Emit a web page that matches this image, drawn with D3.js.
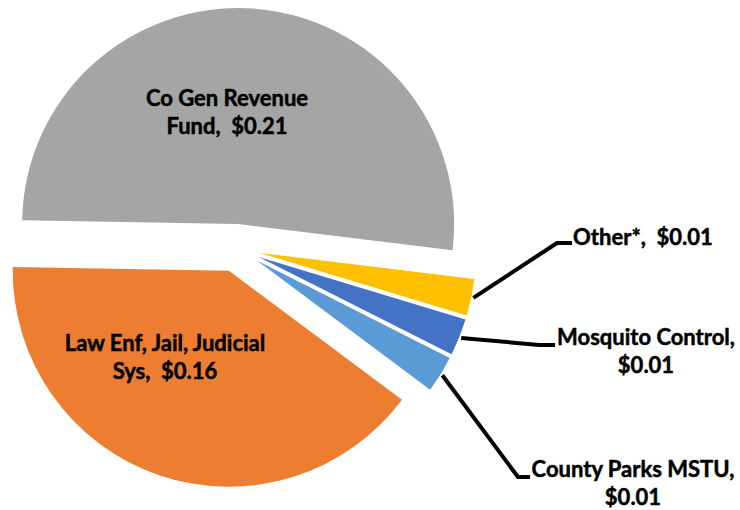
<!DOCTYPE html>
<html>
<head>
<meta charset="UTF-8">
<script src="https://cdn.jsdelivr.net/npm/d3@7"></script>
<style>
  body { margin: 0; background: #fff; }
  svg text { font-family: Lato, "Open Sans", sans-serif; font-weight: bold; fill: #000; stroke: #000; stroke-width: 0.5px; white-space: pre; }
</style>
</head>
<body>
<svg width="740" height="510"></svg>
<script>
  // data, in drawing order (clockwise)
  const categories = ["Co Gen Revenue Fund", "Other*", "Mosquito Control", "County Parks MSTU", "Law Enf, Jail, Judicial Sys"];
  const values = [0.21, 0.0112, 0.0112, 0.0112, 0.163];
  const colors = ["#A5A5A5", "#FFC000", "#4472C4", "#5B9BD5", "#ED7D31"];

  // how many words of the name go on line one (null = single line)
  const wrapAt = [3, null, 2, 3, 4];
  // label centres and leader elbows
  const labelPos = [[227, 98], [643, 237], [646, 337], [633, 469], [165, 343]];
  const elbows = [null, [[557, 243], [572, 243]], [[539, 345], [555, 345]], [[518, 477], [530, 477]], null];

  const svg = d3.select("svg");
  const cx = 236.5, cy = 248, radius = 216, explode = 24;
  const fmt = d3.format("$.2f");

  const pie = d3.pie().sort(null).value(d => d.value)
    .startAngle(-89 * Math.PI / 180).endAngle(-89 * Math.PI / 180 + 2 * Math.PI);
  const data = categories.map((c, i) => ({ name: c, value: values[i], i }));
  const arcs = pie(data);
  const arc = d3.arc().innerRadius(0).outerRadius(radius);

  const g = svg.append("g").attr("transform", `translate(${cx},${cy})`);

  const off = (a, r) => [Math.sin(a) * r, -Math.cos(a) * r];

  g.selectAll("path")
    .data(arcs)
    .enter()
    .append("path")
    .attr("d", arc)
    .attr("fill", d => colors[d.data.i])
    .attr("transform", d => {
      const m = (d.startAngle + d.endAngle) / 2;
      const [dx, dy] = off(m, explode);
      return `translate(${dx},${dy})`;
    });

  // leader lines
  arcs.forEach(d => {
    const e = elbows[d.data.i];
    if (!e) return;
    const m = (d.startAngle + d.endAngle) / 2;
    const [sx, sy] = off(m, explode + radius + 2);
    const pts = [[cx + sx, cy + sy]].concat(e);
    svg.append("path")
      .attr("d", d3.line()(pts))
      .attr("fill", "none")
      .attr("stroke", "#000")
      .attr("stroke-width", 4);
  });

  // labels
  arcs.forEach(d => {
    const i = d.data.i;
    const words = d.data.name.split(" ");
    const val = fmt(d.data.value);
    let lines;
    if (wrapAt[i] === null) {
      lines = [d.data.name + ",  " + val];
    } else {
      const head = words.slice(0, wrapAt[i]).join(" ");
      const tail = words.slice(wrapAt[i]).join(" ");
      lines = tail ? [head, tail + ",  " + val] : [head + ",", val];
    }
    const [lx, ly] = labelPos[i];
    const t = svg.append("text")
      .attr("text-anchor", "middle")
      .attr("font-size", 22);
    lines.forEach((s, k) => {
      t.append("tspan")
        .attr("x", lx)
        .attr("y", ly + k * 28.5)
        .attr("dy", "0.35em")
        .text(s);
    });
  });
</script>
</body>
</html>
